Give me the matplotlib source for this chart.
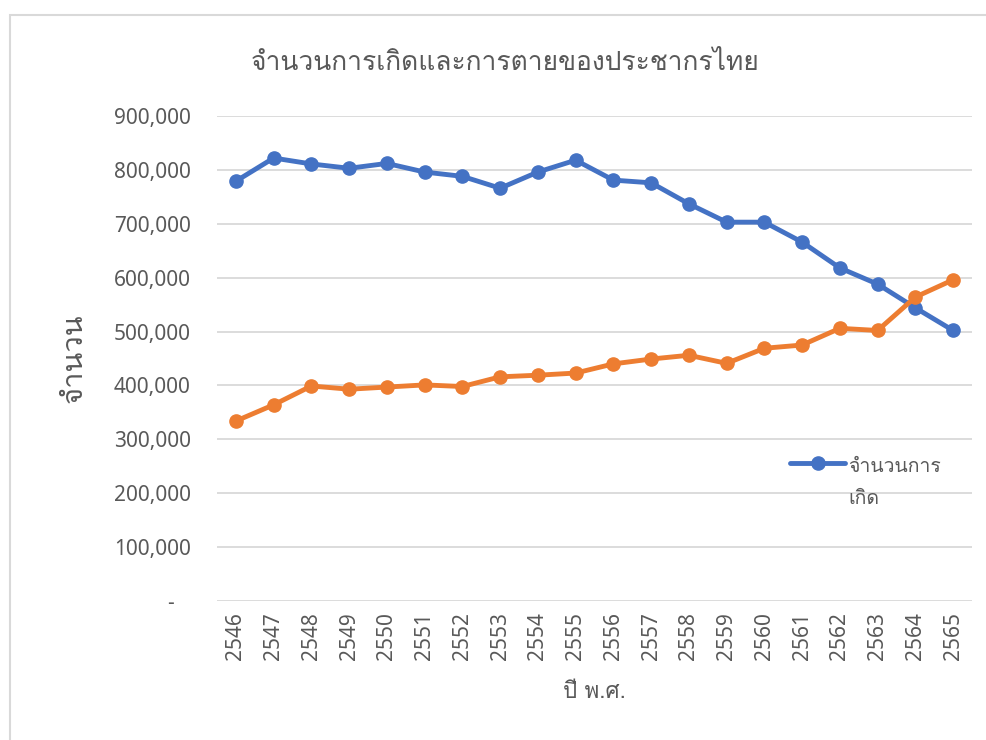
import numpy as np
import matplotlib
matplotlib.use("Agg")
import matplotlib.pyplot as plt
from matplotlib import font_manager
from matplotlib.patches import Rectangle
from matplotlib.legend_handler import HandlerLine2D
from matplotlib.ticker import FuncFormatter

years = ["2546", "2547", "2548", "2549", "2550", "2551", "2552", "2553", "2554", "2555",
         "2556", "2557", "2558", "2559", "2560", "2561", "2562", "2563", "2564", "2565"]
births = [779000, 822000, 811000, 803000, 812000, 796000, 788000, 766000, 796000, 818000,
          781000, 776000, 737000, 703000, 703000, 666000, 618000, 588000, 544000, 502000]
deaths = [334000, 364000, 399000, 393000, 397000, 401000, 398000, 416000, 419000, 423000,
          440000, 449000, 456000, 441000, 469000, 475000, 506000, 502000, 564000, 596000]

title = "จำนวนการเกิดและการตายของประชากรไทย"
x_label = "ปี พ.ศ."
y_label = "จำนวน"
legend_label = "จำนวนการ\nเกิด"

BLUE = "#4472C4"
ORANGE = "#ED7D31"
TEXT = "#595959"
GRID = "#D9D9D9"


def find_thai_font():
    # pick the first installed font that has Thai glyphs
    for f in font_manager.fontManager.ttflist:
        try:
            cmap = matplotlib.ft2font.FT2Font(f.fname).get_charmap()
        except Exception:
            continue
        if 0x0E08 in cmap and 0x0E19 in cmap:
            return f.name
    return None


thai = find_thai_font()
families = ([thai] if thai else []) + ["DejaVu Sans"]
plt.rcParams["font.family"] = families
num_font = ["Noto Sans", "DejaVu Sans"]


class TopLineHandler(HandlerLine2D):
    # keep the legend handle level with the first line of a wrapped label
    def __init__(self, shift=0.0, **kw):
        super().__init__(**kw)
        self.shift = shift

    def create_artists(self, legend, orig_handle, xdescent, ydescent, width,
                       height, fontsize, trans):
        arts = super().create_artists(legend, orig_handle, xdescent, ydescent,
                                      width, height, fontsize, trans)
        for a in arts:
            a.set_ydata(np.asarray(a.get_ydata(), dtype=float) + self.shift * fontsize)
        return arts


fig = plt.figure(figsize=(9.87, 7.4), dpi=100)
ax = fig.add_axes([217 / 987, 1 - 601 / 740, (972 - 217) / 987, (601 - 116) / 740])

fig.patches.append(Rectangle((10 / 987, -0.2), 1.5, 1.2 - 15 / 740,
                             transform=fig.transFigure, fill=False,
                             edgecolor=GRID, linewidth=1.5))

x = np.arange(len(years))
blue_line, = ax.plot(x, births, color=BLUE, lw=3.5, marker="o", ms=9.5,
                     solid_capstyle="round", solid_joinstyle="round", zorder=3)
ax.plot(x, deaths, color=ORANGE, lw=3.5, marker="o", ms=9.5,
        solid_capstyle="round", solid_joinstyle="round", zorder=4)

ax.set_xlim(-0.5, len(years) - 0.5)
ax.set_ylim(0, 900000)
ax.set_yticks(np.arange(0, 900001, 100000))
ax.yaxis.set_major_formatter(FuncFormatter(lambda v, p: "-   " if v == 0 else f"{int(v):,}"))
ax.set_xticks(x)
ax.set_xticklabels(years, rotation=90)

ax.grid(axis="y", color=GRID, lw=1.3)
ax.set_axisbelow(True)
for s in ax.spines.values():
    s.set_visible(False)
ax.tick_params(axis="both", length=0, colors=TEXT, labelsize=15)
ax.tick_params(axis="y", pad=19)
ax.tick_params(axis="x", pad=8)
for lab in ax.get_xticklabels() + ax.get_yticklabels():
    lab.set_family(num_font)

fig.text(505 / 987, 1 - 63 / 740, title, fontsize=19, color=TEXT,
         ha="center", va="center")
ax.set_xlabel(x_label, fontsize=16, color=TEXT, labelpad=16)
ax.set_ylabel(y_label, fontsize=21, color=TEXT, labelpad=19)

leg = ax.legend(handles=[blue_line], labels=[legend_label], frameon=False,
                loc="upper left", bbox_to_anchor=(790 / 987, 1 - 458 / 740),
                bbox_transform=fig.transFigure, fontsize=14, labelcolor=TEXT,
                handlelength=2.85, handletextpad=0.15, borderpad=0, borderaxespad=0,
                handler_map={blue_line: TopLineHandler(shift=1.05)})
for t in leg.get_texts():
    t.set_linespacing(2.0)

fig.savefig("out.png", dpi=100)
